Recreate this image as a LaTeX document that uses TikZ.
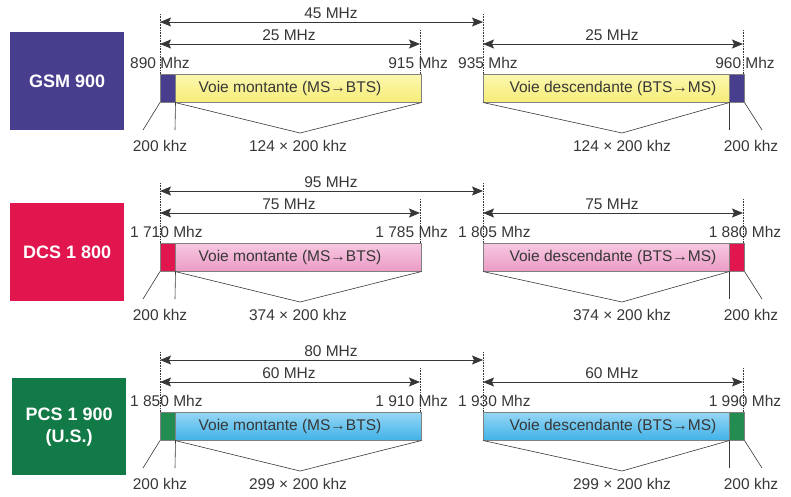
\documentclass[tikz,border=0pt]{standalone}
\usepackage{fontspec}
\setmainfont{Liberation Sans}
\usetikzlibrary{arrows.meta}

\definecolor{ink}{RGB}{55,55,55}
\definecolor{gsmc}{RGB}{72,62,142}
\definecolor{dcsc}{RGB}{226,22,78}
\definecolor{pcsc}{RGB}{18,122,70}
\definecolor{pcscell}{RGB}{35,140,80}

\tikzset{
  lbl/.style={font=\fontsize{15.5}{18}\selectfont, text=ink, inner sep=0pt},
  guide/.style={densely dotted, ink, line width=0.6pt},
  tip/.tip={Stealth[length=11pt,width=9pt,inset=2pt]},
  span/.style={tip-tip, line width=1pt, ink},
  thinline/.style={ink, line width=0.6pt},
  bandbox/.style={draw=black!50, line width=0.5pt, minimum height=28pt,
                  inner sep=0pt, anchor=north west},
  cellbox/.style={bandbox, minimum width=15pt},
  sysbox/.style={minimum width=114pt, minimum height=98pt, anchor=north west,
                 text=white, font=\bfseries\fontsize{18}{22}\selectfont,
                 align=center, inner sep=0pt},
  gsmbar/.style={top color={rgb,255:red,252;green,248;blue,175},
                 bottom color={rgb,255:red,246;green,236;blue,120}},
  dcsbar/.style={top color={rgb,255:red,247;green,200;blue,225},
                 bottom color={rgb,255:red,236;green,155;blue,198}},
  pcsbar/.style={top color={rgb,255:red,150;green,215;blue,245},
                 bottom color={rgb,255:red,65;green,178;blue,232}},
}

% One frequency plan: #1 name prefix, #2 bar style, #3 cell colour,
% #4 duplex spacing, #5 band width, #6 channel count,
% #7..#9 first three band edges; \lastedge holds the fourth
\newcommand\bandrow[9]{%
  % guides at the band edges
  \coordinate (#1-ut) at (160,14);  \coordinate (#1-ub) at (160,74);
  \coordinate (#1-et) at (420,30);  \coordinate (#1-eb) at (420,74);
  \coordinate (#1-dt) at (483,14);  \coordinate (#1-db) at (483,74);
  \coordinate (#1-ft) at (743,30);  \coordinate (#1-fb) at (743,74);
  \draw[guide] (#1-ut) -- (#1-ub);
  \draw[guide] (#1-et) -- (#1-eb);
  \draw[guide] (#1-dt) -- (#1-db);
  \draw[guide] (#1-ft) -- (#1-fb);
  % duplex spacing
  \coordinate (#1-s1) at (160,22);  \coordinate (#1-s2) at (483,22);
  \draw[span] (#1-s1) -- (#1-s2);
  \node[lbl] (#1-dup) at (331,13) {#4};
  % band widths
  \coordinate (#1-m1) at (160,44);  \coordinate (#1-m2) at (420,44);
  \coordinate (#1-m3) at (483,44);  \coordinate (#1-m4) at (743,44);
  \draw[span] (#1-m1) -- (#1-m2);
  \draw[span] (#1-m3) -- (#1-m4);
  \node[lbl] (#1-bw1) at (289,35) {#5};
  \node[lbl] (#1-bw2) at (612,35) {#5};
  % band edges
  \node[lbl, anchor=west] (#1-f1) at (130,63) {#7};
  \node[lbl, anchor=east] (#1-f2) at (448,63) {#8};
  \node[lbl, anchor=west] (#1-f3) at (458,63) {#9};
  \node[lbl] (#1-f4) at (745,63) {\lastedge};
  % uplink and downlink bands with their guard channels
  \node[cellbox, fill=#3] (#1-uc) at (160,74) {};
  \node[bandbox, #2, minimum width=246pt] (#1-ubar) at (175,74) {};
  \node[lbl] (#1-utx) at (290,88) {Voie montante (MS→BTS)};
  \node[bandbox, #2, minimum width=246pt] (#1-dbar) at (483,74) {};
  \node[cellbox, fill=#3] (#1-dc) at (729,74) {};
  \node[lbl] (#1-dtx) at (613,88) {Voie descendante (BTS→MS)};
  % channel braces
  \coordinate (#1-v1) at (300,133);
  \coordinate (#1-v2) at (622,133);
  \draw[thinline] (#1-ubar.south west) -- (#1-v1) -- (#1-ubar.south east);
  \draw[thinline] (#1-dbar.south west) -- (#1-v2) -- (#1-dbar.south east);
  \node[lbl] (#1-n1) at (298,146) {#6 × 200 khz};
  \node[lbl] (#1-n2) at (622,146) {#6 × 200 khz};
  % guard channel leaders
  \coordinate (#1-k1) at (175,130); \coordinate (#1-k2) at (143,130);
  \coordinate (#1-k3) at (729,130); \coordinate (#1-k4) at (762,130);
  \draw[thinline] (#1-uc.south east) -- (#1-k1);
  \draw[thinline] (#1-uc.south west) -- (#1-k2);
  \draw[thinline] (#1-dc.south west) -- (#1-k3);
  \draw[thinline] (#1-dc.south east) -- (#1-k4);
  \node[lbl] (#1-w1) at (160,146) {200 khz};
  \node[lbl] (#1-w2) at (751,146) {200 khz};
}

\begin{document}
\begin{tikzpicture}[x=1pt, y=-1pt]
  \useasboundingbox (0,0) rectangle (791,496);

  % system names
  \node[sysbox, fill=gsmc] (gsm) at (10,32) {GSM 900};
  \node[sysbox, fill=dcsc] (dcs) at (10,203) {DCS 1 800};
  \node[sysbox, fill=pcsc, minimum height=97pt] (pcs) at (12,378) {PCS 1 900\\(U.S.)};

  % GSM 900
  \def\lastedge{960 Mhz}
  \bandrow{g}{gsmbar}{gsmc}{45 MHz}{25 MHz}{124}{890 Mhz}{915 Mhz}{935 Mhz}

  % DCS 1800
  \begin{scope}[yshift=-169pt]
    \def\lastedge{1 880 Mhz}
    \bandrow{d}{dcsbar}{dcsc}{95 MHz}{75 MHz}{374}{1 710 Mhz}{1 785 Mhz}{1 805 Mhz}
  \end{scope}

  % PCS 1900
  \begin{scope}[yshift=-338pt]
    \def\lastedge{1 990 Mhz}
    \bandrow{p}{pcsbar}{pcscell}{80 MHz}{60 MHz}{299}{1 850 Mhz}{1 910 Mhz}{1 930 Mhz}
  \end{scope}
\end{tikzpicture}
\end{document}
